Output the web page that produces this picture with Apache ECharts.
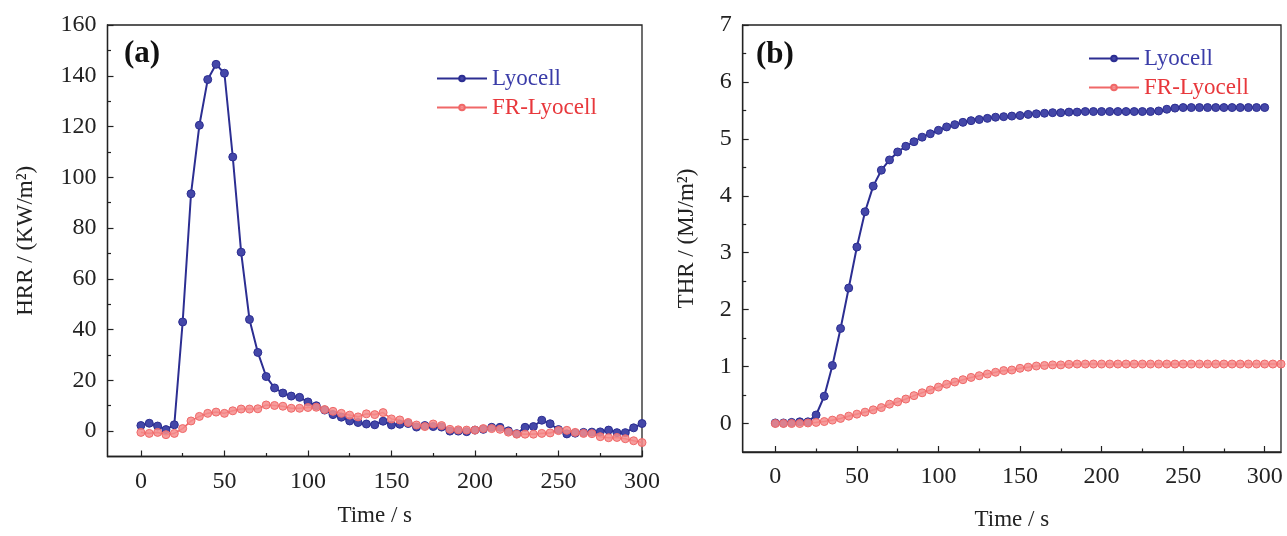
<!DOCTYPE html>
<html>
<head>
<meta charset="utf-8">
<script src="https://cdn.jsdelivr.net/npm/echarts@6/dist/echarts.min.js"></script>
<style>
html,body{margin:0;padding:0;background:#fff;}
#c{width:1287px;height:536px;}
</style>
</head>
<body>
<div id="c"></div>
<script>
// ---- data ----
const timeA = [0,5,10,15,20,25,30,35,40,45,50,55,60,65,70,75,80,85,90,95,100,105,110,115,120,125,130,135,140,145,150,155,160,165,170,175,180,185,190,195,200,205,210,215,220,225,230,235,240,245,250,255,260,265,270,275,280,285,290,295,300];
const hrrLyocell = [2.2,3.1,2,0.6,2.5,43,93.5,120.5,138.5,144.5,141,108,70.5,44,31,21.5,17,15,13.8,13.3,11.5,10,8.3,6.5,5.5,4,3.4,2.8,2.5,3.9,2.4,2.7,3,1.6,2.2,1.8,1.6,0,0,-0.2,0.4,0.7,1.5,1.5,0.1,-1,1.5,1.8,4.3,2.9,0.6,-1.1,-0.8,-0.5,-0.4,-0.3,0.4,-0.6,-0.6,1.3,3];
const hrrFR = [-0.5,-0.9,-0.5,-1.4,-0.9,1,4,5.8,7,7.5,7,8,8.7,8.7,8.8,10.3,10.1,9.8,9,9,9.3,9.4,8.5,7.8,7,6.3,5.6,6.8,6.5,7.3,4.8,4.4,3.4,2.4,1.8,2.8,2.2,0.7,0.5,0.4,0.4,1,1,0.7,-0.4,-1.2,-1.2,-1.2,-0.9,-0.7,0.2,0.3,-0.5,-0.9,-1,-2.2,-2.6,-2.5,-3,-3.8,-4.5];
const timeB1 = [0,5,10,15,20,25,30,35,40,45,50,55,60,65,70,75,80,85,90,95,100,105,110,115,120,125,130,135,140,145,150,155,160,165,170,175,180,185,190,195,200,205,210,215,220,225,230,235,240,245,250,255,260,265,270,275,280,285,290,295,300];
const thrLyocell = [0.01,0.01,0.02,0.03,0.03,0.15,0.48,1.02,1.67,2.38,3.1,3.72,4.17,4.45,4.63,4.77,4.87,4.95,5.03,5.09,5.15,5.21,5.25,5.29,5.32,5.34,5.36,5.38,5.39,5.4,5.41,5.43,5.44,5.45,5.46,5.46,5.47,5.47,5.48,5.48,5.48,5.48,5.48,5.48,5.48,5.48,5.48,5.49,5.52,5.54,5.55,5.55,5.55,5.55,5.55,5.55,5.55,5.55,5.55,5.55,5.55];
const timeB2 = [0,5,10,15,20,25,30,35,40,45,50,55,60,65,70,75,80,85,90,95,100,105,110,115,120,125,130,135,140,145,150,155,160,165,170,175,180,185,190,195,200,205,210,215,220,225,230,235,240,245,250,255,260,265,270,275,280,285,290,295,300,305,310];
const thrFR = [0,0,0,0,0.01,0.02,0.035,0.06,0.09,0.13,0.165,0.2,0.24,0.28,0.34,0.38,0.43,0.49,0.54,0.59,0.64,0.69,0.73,0.77,0.81,0.84,0.87,0.9,0.93,0.94,0.97,0.99,1.01,1.02,1.03,1.03,1.04,1.045,1.045,1.045,1.045,1.045,1.045,1.045,1.045,1.045,1.045,1.045,1.045,1.045,1.045,1.045,1.045,1.045,1.045,1.045,1.045,1.045,1.045,1.045,1.045,1.045,1.045];
const xMajor = [0,50,100,150,200,250,300];
const xMinor = [25,75,125,175,225,275];
const yMajorA = [0,20,40,60,80,100,120,140,160];
const yMinorA = [10,30,50,70,90,110,130,150];
const yMajorB = [0,1,2,3,4,5,6,7];
const yMinorB = [0.5,1.5,2.5,3.5,4.5,5.5,6.5];

// ---- style ----
const FONT = "'Liberation Serif','Times New Roman',serif";
const INK = '#222';
const BLUE = '#2c2e92';
const BLUE_M = '#4447a8';
const RED = '#f06868';
const RED_M = 'rgba(245,140,140,0.85)';

function pairs(xs, ys){ return xs.map((x,i)=>[x, ys[i]]); }

function axisPair(kind, grid, min, max, major, minor, opt){
  const main = {
    type:'value', gridIndex:grid, min:min, max:max,
    position: kind==='x' ? 'bottom' : 'left',
    splitLine:{show:false},
    axisLine:{show:true, onZero:false, lineStyle:{color:INK, width:1.3}},
    axisTick:{show:true, inside:true, length:6, customValues:major, lineStyle:{color:INK, width:1.2}},
    axisLabel:{show:true, customValues:major, color:INK, fontFamily:FONT, fontSize:24, margin:opt.margin},
    name:opt.name, nameLocation:'middle', nameGap:opt.nameGap,
    nameTextStyle:{color:INK, fontFamily:FONT, fontSize:23}
  };
  const sub = {
    type:'value', gridIndex:grid, min:min, max:max,
    position: kind==='x' ? 'bottom' : 'left',
    splitLine:{show:false},
    axisLine:{show:false, onZero:false},
    axisTick:{show:true, inside:true, length:3.5, customValues:minor, lineStyle:{color:INK, width:1.2}},
    axisLabel:{show:false}
  };
  return [main, sub];
}

const xa = axisPair('x',0,-20,300,xMajor,xMinor,{name:'Time / s', nameGap:48, margin:13});
const ya = axisPair('y',0,-10,160,yMajorA,yMinorA,{name:'HRR / (KW/m²)', nameGap:70, margin:11});
const xb = axisPair('x',1,-20,310,xMajor,xMinor,{name:'Time / s', nameGap:56, margin:13});
const yb = axisPair('y',1,-0.5,7,yMajorB,yMinorB,{name:'THR / (MJ/m²)', nameGap:44, margin:11});

function lineSeries(name, data, xi, yi, color, mcolor, lw){
  return {
    name:name, type:'line', data:data, xAxisIndex:xi, yAxisIndex:yi,
    symbol:'circle', symbolSize:8, smooth:false,
    lineStyle:{color:color, width:lw},
    itemStyle:{color:mcolor, borderColor:color, borderWidth:1},
    emphasis:{disabled:true}, animation:false, clip:true
  };
}

function legendAt(left, top){
  return {
    left:left, top:top, orient:'vertical', itemWidth:50, itemHeight:7, itemGap:6,
    textStyle:{fontFamily:FONT, fontSize:23},
    data:[
      {name:'Lyocell', textStyle:{color:'#3a3ca8'}},
      {name:'FR-Lyocell', textStyle:{color:'#e8383c'}}
    ],
    selectedMode:false
  };
}

const chart = echarts.init(document.getElementById('c'), null, {renderer:'canvas'});
chart.setOption({
  backgroundColor:'#fff',
  animation:false,
  grid:[
    {left:107.5, top:25, width:534.5, height:431.5, show:true, borderColor:INK, borderWidth:1.3, containLabel:false},
    {left:742.7, top:25, width:538.3, height:435, show:true, borderColor:INK, borderWidth:1.3, containLabel:false}
  ],
  xAxis:[xa[0], xa[1], xb[0], xb[1]],
  yAxis:[ya[0], ya[1], yb[0], yb[1]],
  legend:[legendAt(431,62), legendAt(1083,42)],
  series:[
    lineSeries('Lyocell', pairs(timeA, hrrLyocell), 0, 0, BLUE, BLUE_M, 2),
    lineSeries('FR-Lyocell', pairs(timeA, hrrFR), 0, 0, RED, RED_M, 1.6),
    lineSeries('Lyocell', pairs(timeB1, thrLyocell), 2, 2, BLUE, BLUE_M, 2),
    lineSeries('FR-Lyocell', pairs(timeB2, thrFR), 2, 2, RED, RED_M, 1.6)
  ],
  graphic:[
    {type:'text', left:124, top:38, style:{text:'(a)', fontFamily:FONT, fontSize:31, fontWeight:'bold', fill:'#111'}},
    {type:'text', left:756, top:39, style:{text:'(b)', fontFamily:FONT, fontSize:31, fontWeight:'bold', fill:'#111'}}
  ]
});
</script>
</body>
</html>
